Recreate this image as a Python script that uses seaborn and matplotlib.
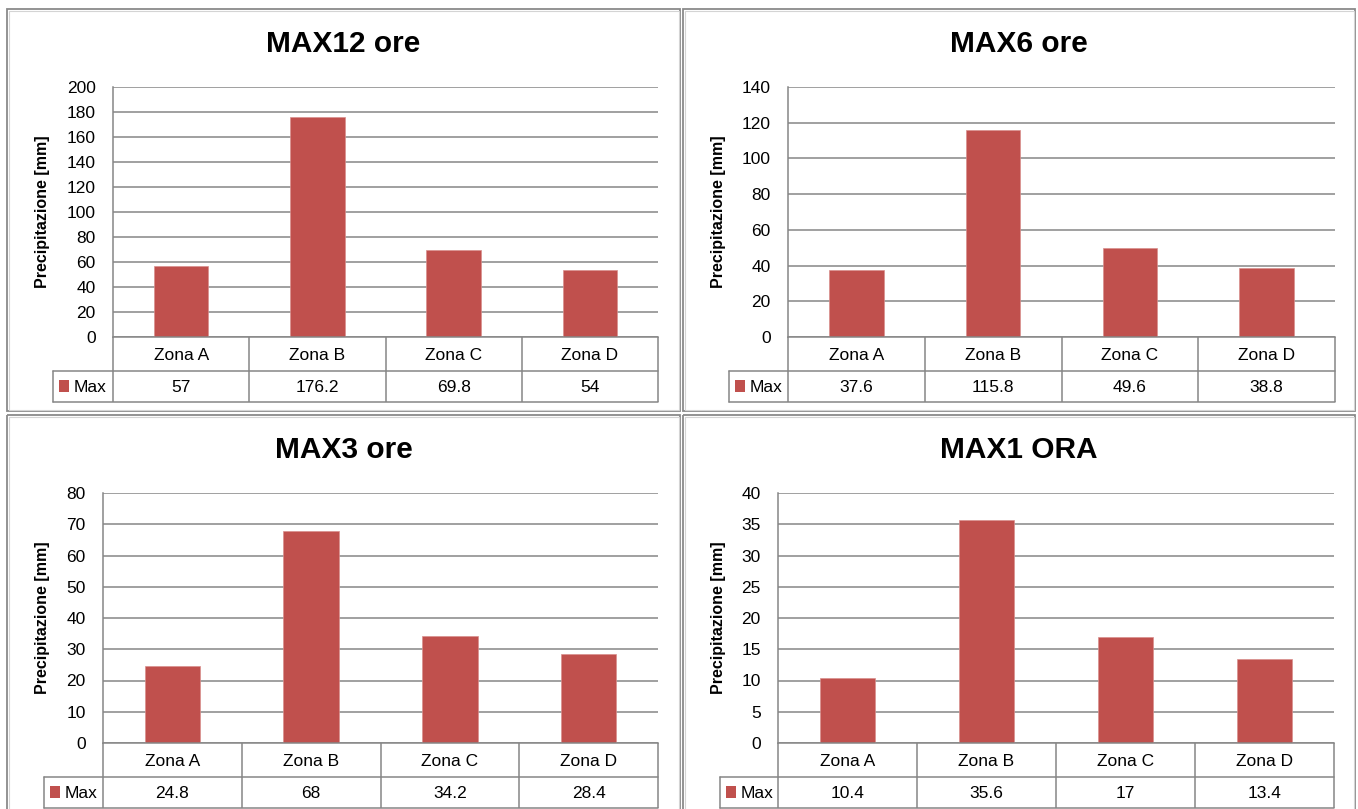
import matplotlib
matplotlib.use("Agg")
import matplotlib.pyplot as plt
import seaborn as sns
import pandas as pd
from matplotlib import font_manager
from matplotlib.patches import Rectangle

# --- data -----------------------------------------------------------------
zones = ["Zona A", "Zona B", "Zona C", "Zona D"]
series_name = "Max"
max_12h = [57, 176.2, 69.8, 54]
max_6h = [37.6, 115.8, 49.6, 38.8]
max_3h = [24.8, 68, 34.2, 28.4]
max_1h = [10.4, 35.6, 17, 13.4]
titles = ["MAX12 ore", "MAX6 ore", "MAX3 ore", "MAX1 ORA"]
y_max = [200, 140, 80, 40]
y_step = [20, 20, 10, 5]
y_label = "Precipitazione [mm]"

# --- style ----------------------------------------------------------------
W, H = 1358, 809
BAR = "#C0504D"
LINE = "#868686"
sns.set_theme(style="white")
available = {f.name for f in font_manager.fontManager.ttflist}
family = "Liberation Sans Narrow" if "Liberation Sans Narrow" in available else "Liberation Sans"
plt.rcParams["font.family"] = [family, "DejaVu Sans"]

fig = plt.figure(figsize=(W / 100, H / 100), dpi=100)
fig.patch.set_facecolor("white")

# overlay in pixel units for frames, titles and the data table
overlay = fig.add_axes([0, 0, 1, 1], zorder=5)
overlay.set_xlim(0, W)
overlay.set_ylim(H, 0)
overlay.axis("off")
overlay.patch.set_alpha(0)

# frame box, plot box (x0, x1, y0, y1), legend-cell left edge, y-label x
panels = [
    dict(frame=(7, 9, 680, 411), box=(113, 658, 87, 337), leg=53, ylab=43),
    dict(frame=(683, 9, 1355, 411), box=(788, 1335, 87, 337), leg=729, ylab=718),
    dict(frame=(7, 415, 680, 830), box=(103, 658, 493, 743), leg=44, ylab=43),
    dict(frame=(683, 415, 1355, 830), box=(778, 1334, 493, 743), leg=720, ylab=718),
]
series = [max_12h, max_6h, max_3h, max_1h]

LW = 1.1  # 1.5 px

for p, vals, title, ymax, step in zip(panels, series, titles, y_max, y_step):
    fx0, fy0, fx1, fy1 = p["frame"]
    overlay.add_patch(Rectangle((fx0, fy0), fx1 - fx0, fy1 - fy0, fill=False,
                                edgecolor="#8a8a8a", lw=1.3))
    overlay.add_patch(Rectangle((fx0 + 1.5, fy0 + 1.5), fx1 - fx0 - 3, fy1 - fy0 - 3,
                                fill=False, edgecolor="#d4d4d4", lw=0.8))
    overlay.text((fx0 + fx1) / 2, fy0 + 35, title, ha="center", va="center",
                 fontsize=21.5, fontweight="bold", color="black")

    x0, x1, y0, y1 = p["box"]
    ax = fig.add_axes([x0 / W, 1 - y1 / H, (x1 - x0) / W, (y1 - y0) / H])
    df = pd.DataFrame({"zona": zones, "mm": vals})
    sns.barplot(data=df, x="zona", y="mm", ax=ax, color=BAR, saturation=1,
                width=0.4, edgecolor="#d98f8d", linewidth=0.5)
    ax.set_ylim(0, ymax)
    ax.set_yticks(range(0, ymax + 1, step))
    ax.set_xlim(-0.5, len(zones) - 0.5)
    ax.set_xticks([])
    ax.set_xlabel("")
    ax.set_ylabel(y_label, fontsize=11.5, fontweight="bold", color="black")
    ax.yaxis.set_label_coords(-(x0 - p["ylab"]) / (x1 - x0), 0.5)
    ax.yaxis.label.set_va("center")
    ax.yaxis.grid(True, color=LINE, lw=LW)
    ax.set_axisbelow(True)
    ax.tick_params(axis="y", length=0, pad=12.5, labelsize=12.5, labelcolor="black")
    for side in ("top", "right"):
        ax.spines[side].set_visible(False)
    for side in ("left", "bottom"):
        ax.spines[side].set_color(LINE)
        ax.spines[side].set_linewidth(LW)
    ax.set_facecolor("white")

    # data table under the plot
    n = len(zones)
    cw = (x1 - x0) / n
    edges = [x0 + i * cw for i in range(n + 1)]
    ym = y1 + 34
    yb = y1 + 65
    for e in edges:
        overlay.plot([e, e], [y1, yb], color=LINE, lw=LW, solid_capstyle="butt")
    overlay.plot([p["leg"], x1], [ym, ym], color=LINE, lw=LW)
    overlay.plot([p["leg"], x1], [yb, yb], color=LINE, lw=LW)
    overlay.plot([p["leg"], p["leg"]], [ym, yb], color=LINE, lw=LW)
    for i, (z, v) in enumerate(zip(zones, vals)):
        cx = (edges[i] + edges[i + 1]) / 2
        overlay.text(cx, (y1 + ym) / 2 + 1, z, ha="center", va="center",
                     fontsize=12.5, color="black")
        overlay.text(cx, (ym + yb) / 2 + 1, f"{v:g}", ha="center", va="center",
                     fontsize=12.5, color="black")
    overlay.add_patch(Rectangle((p["leg"] + 6, ym + 9), 10, 12, color=BAR, lw=0))
    overlay.text(p["leg"] + 21, (ym + yb) / 2 + 1, series_name, ha="left", va="center",
                 fontsize=12.5, color="black")

fig.savefig("out.png", dpi=100, facecolor="white")
